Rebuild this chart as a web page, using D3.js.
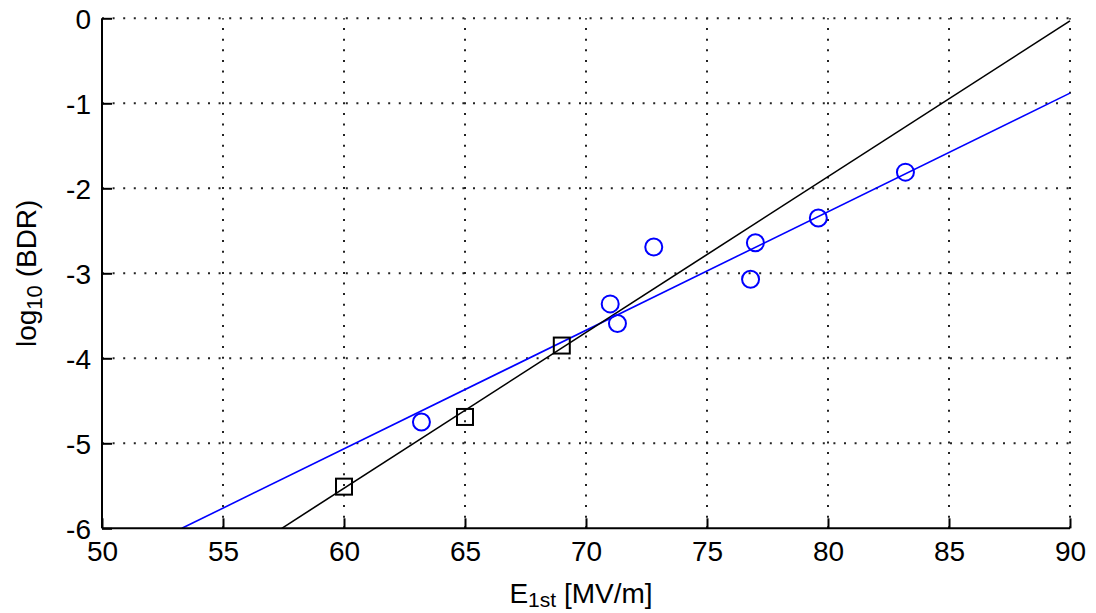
<!DOCTYPE html>
<html>
<head>
<meta charset="utf-8">
<script src="https://cdn.jsdelivr.net/npm/d3@7"></script>
<style>
  html, body { margin: 0; padding: 0; background: #fff; }
  svg { display: block; font-family: "Liberation Sans", Arial, Helvetica, sans-serif; }
</style>
</head>
<body>
<svg id="chart" width="1096" height="613"></svg>
<script>
// Axis ticks
const xTicks = [50, 55, 60, 65, 70, 75, 80, 85, 90];
const yTicks = [-6, -5, -4, -3, -2, -1, 0];

// Measured breakdown rates (circles)
const circleX = [63.2, 71.0, 71.3, 72.8, 76.8, 77.0, 79.6, 83.2];
const circleY = [-4.75, -3.36, -3.59, -2.69, -3.07, -2.64, -2.35, -1.81];

// Second data set (squares)
const squareX = [60, 65, 69];
const squareY = [-5.51, -4.69, -3.85];

// Fitted lines, given by their end points
const fitBlueX = [53.3, 90];
const fitBlueY = [-6, -0.88];
const fitBlackX = [57.43, 90];
const fitBlackY = [-6, -0.03];

const svg = d3.select("#chart");
const plotLeft = 102, plotRight = 1070, plotTop = 18.3, plotBottom = 528.3;

const x = d3.scaleLinear().domain([50, 90]).range([plotLeft, plotRight]);
const y = d3.scaleLinear().domain([-6, 0]).range([plotBottom, plotTop]);

svg.append("rect").attr("width", 1096).attr("height", 613).attr("fill", "#fff");

// Dotted grid
const grid = svg.append("g")
  .attr("stroke", "#222")
  .attr("stroke-width", 2)
  .attr("stroke-dasharray", "2 8.6");
grid.selectAll(".gx").data(xTicks.slice(1)).join("line")
  .attr("x1", d => x(d)).attr("x2", d => x(d))
  .attr("y1", plotBottom).attr("y2", plotTop);
grid.selectAll(".gy").data(yTicks.slice(1)).join("line")
  .attr("y1", d => y(d)).attr("y2", d => y(d))
  .attr("x1", plotLeft).attr("x2", plotRight);

// Fit lines
const line = d3.line().x(d => x(d[0])).y(d => y(d[1]));
svg.append("path")
  .datum(fitBlueX.map((v, i) => [v, fitBlueY[i]]))
  .attr("d", line).attr("fill", "none").attr("stroke", "#0000ff").attr("stroke-width", 1.6);
svg.append("path")
  .datum(fitBlackX.map((v, i) => [v, fitBlackY[i]]))
  .attr("d", line).attr("fill", "none").attr("stroke", "#000").attr("stroke-width", 1.6);

// Markers
svg.append("g").selectAll("circle")
  .data(circleX.map((v, i) => [v, circleY[i]]))
  .join("circle")
  .attr("cx", d => x(d[0])).attr("cy", d => y(d[1])).attr("r", 8.5)
  .attr("fill", "none").attr("stroke", "#0000ff").attr("stroke-width", 2);

const sq = 16;
svg.append("g").selectAll("rect")
  .data(squareX.map((v, i) => [v, squareY[i]]))
  .join("rect")
  .attr("x", d => x(d[0]) - sq / 2).attr("y", d => y(d[1]) - sq / 2)
  .attr("width", sq).attr("height", sq)
  .attr("fill", "none").attr("stroke", "#000").attr("stroke-width", 2);

// Axes (ticks pointing inward)
const xAxis = d3.axisBottom(x).tickValues(xTicks).tickSize(-10).tickFormat(d3.format("d"));
const yAxis = d3.axisLeft(y).tickValues(yTicks).tickSize(-10).tickFormat(d => d < 0 ? "-" + Math.abs(d) : d);

const gx = svg.append("g").attr("transform", `translate(0,${plotBottom})`).call(xAxis);
const gy = svg.append("g").attr("transform", `translate(${plotLeft},0)`).call(yAxis);

[gx, gy].forEach(g => {
  g.select(".domain").attr("stroke", "#000").attr("stroke-width", 2);
  g.selectAll(".tick line").attr("stroke", "#000").attr("stroke-width", 2);
  g.selectAll(".tick text").attr("fill", "#000").attr("font-size", 28)
    .attr("font-family", "'Liberation Sans', Arial, sans-serif");
});
gx.select(".domain").attr("d", `M${plotLeft},0H${plotRight}`);
gy.select(".domain").attr("d", `M0,${plotBottom}V${plotTop}`);
gx.selectAll(".tick text").attr("y", 13).attr("dy", "0.71em");
gy.selectAll(".tick text").attr("x", -11).attr("dy", "0.36em");

// Axis titles
const xt = svg.append("text")
  .attr("x", 581).attr("y", 603)
  .attr("text-anchor", "middle").attr("font-size", 28).attr("fill", "#000");
xt.append("tspan").text("E");
xt.append("tspan").attr("font-size", 21).attr("dy", 4).text("1st");
xt.append("tspan").attr("dy", -4).text(" [MV/m]");

const yt = svg.append("text")
  .attr("transform", `translate(36,${(plotTop + plotBottom) / 2}) rotate(-90)`)
  .attr("text-anchor", "middle").attr("font-size", 28).attr("fill", "#000");
yt.append("tspan").text("log");
yt.append("tspan").attr("font-size", 22).attr("dy", 6).text("10");
yt.append("tspan").attr("dy", -6).text(" (BDR)");
</script>
</body>
</html>
